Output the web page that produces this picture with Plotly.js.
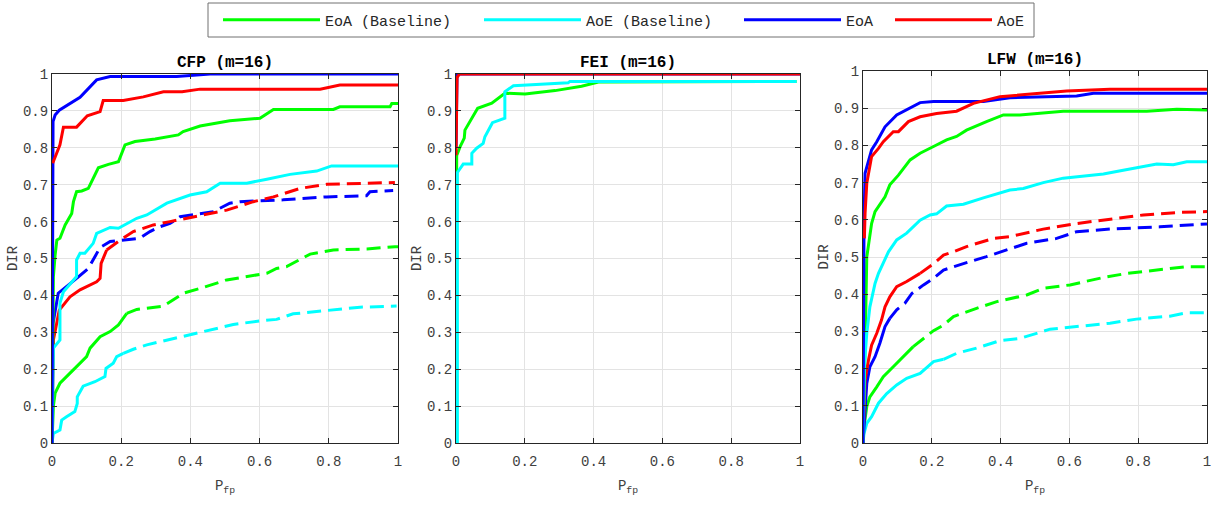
<!DOCTYPE html>
<html>
<head>
<meta charset="utf-8">
<script src="https://cdn.plot.ly/plotly-3.0.1.min.js"></script>
<style>html,body{margin:0;padding:0;background:#fff;} #chart{width:1225px;height:507px;}</style>
</head>
<body>
<div id="chart"></div>
<script>
// ---------- data ----------
const seriesNames = ['EoA (Baseline)', 'AoE (Baseline)', 'EoA', 'AoE'];
const panelTitles = ['CFP (m=16)', 'FEI (m=16)', 'LFW (m=16)'];
const xTitle = 'P<sub>fp</sub>';
const yTitle = 'DIR';
const xTickVals = [0, 0.2, 0.4, 0.6, 0.8, 1];
const xTickText = ['0', '0.2', '0.4', '0.6', '0.8', '1'];
const yTickVals = [0, 0.1, 0.2, 0.3, 0.4, 0.5, 0.6, 0.7, 0.8, 0.9, 1];
const yTickText = ['0', '0.1', '0.2', '0.3', '0.4', '0.5', '0.6', '0.7', '0.8', '0.9', '1'];

// CFP solid
const cfp_eoaBase_x = [0, 0.004, 0.009, 0.014, 0.023, 0.038, 0.057, 0.062, 0.071, 0.086, 0.105, 0.124, 0.134, 0.163, 0.192, 0.211, 0.24, 0.298, 0.365, 0.379, 0.428, 0.514, 0.601, 0.64, 0.813, 0.832, 0.977, 0.982, 1];
const cfp_eoaBase_y = [0, 0.45, 0.509, 0.55, 0.555, 0.591, 0.622, 0.654, 0.681, 0.683, 0.69, 0.726, 0.746, 0.755, 0.762, 0.808, 0.817, 0.824, 0.835, 0.844, 0.859, 0.873, 0.88, 0.904, 0.904, 0.911, 0.911, 0.92, 0.92];
const cfp_aoeBase_x = [0, 0.004, 0.023, 0.023, 0.033, 0.071, 0.071, 0.081, 0.095, 0.119, 0.129, 0.168, 0.192, 0.245, 0.274, 0.332, 0.399, 0.447, 0.486, 0.563, 0.621, 0.688, 0.765, 0.808, 1];
const cfp_aoeBase_y = [0, 0.257, 0.279, 0.379, 0.41, 0.451, 0.496, 0.514, 0.514, 0.541, 0.568, 0.584, 0.582, 0.609, 0.618, 0.65, 0.672, 0.681, 0.704, 0.704, 0.715, 0.728, 0.737, 0.751, 0.751];
const cfp_eoa_x = [0, 0.003, 0.009, 0.021, 0.081, 0.129, 0.168, 0.36, 0.457, 1];
const cfp_eoa_y = [0, 0.871, 0.889, 0.902, 0.937, 0.984, 0.993, 0.993, 1, 1];
const cfp_aoe_x = [0.002, 0.023, 0.033, 0.071, 0.102, 0.139, 0.148, 0.206, 0.264, 0.322, 0.376, 0.428, 0.775, 0.832, 1];
const cfp_aoe_y = [0.758, 0.808, 0.856, 0.856, 0.887, 0.898, 0.928, 0.928, 0.938, 0.952, 0.952, 0.959, 0.959, 0.97, 0.97];
// CFP dashed
const cfp_eoaBaseD_x = [0, 0.004, 0.009, 0.023, 0.071, 0.1, 0.11, 0.139, 0.168, 0.192, 0.216, 0.245, 0.322, 0.38, 0.428, 0.505, 0.621, 0.649, 0.678, 0.746, 0.813, 0.91, 0.991, 1];
const cfp_eoaBaseD_y = [0, 0.1, 0.135, 0.162, 0.207, 0.234, 0.257, 0.288, 0.302, 0.32, 0.351, 0.362, 0.371, 0.406, 0.419, 0.442, 0.46, 0.473, 0.478, 0.512, 0.523, 0.526, 0.532, 0.532];
const cfp_aoeBaseD_x = [0, 0.004, 0.023, 0.028, 0.042, 0.066, 0.073, 0.073, 0.09, 0.124, 0.153, 0.156, 0.177, 0.187, 0.206, 0.235, 0.274, 0.332, 0.399, 0.457, 0.524, 0.601, 0.649, 0.697, 0.803, 0.89, 0.996];
const cfp_aoeBaseD_y = [0, 0.026, 0.035, 0.062, 0.071, 0.085, 0.107, 0.125, 0.154, 0.166, 0.18, 0.202, 0.216, 0.234, 0.243, 0.254, 0.266, 0.279, 0.293, 0.308, 0.321, 0.331, 0.335, 0.35, 0.36, 0.368, 0.371];
const cfp_eoaD_x = [0, 0.003, 0.018, 0.071, 0.105, 0.124, 0.139, 0.168, 0.254, 0.283, 0.312, 0.341, 0.37, 0.466, 0.514, 0.543, 0.668, 0.794, 0.909, 0.919, 0.986];
const cfp_eoaD_y = [0, 0.324, 0.406, 0.446, 0.473, 0.505, 0.53, 0.546, 0.555, 0.573, 0.586, 0.595, 0.613, 0.627, 0.65, 0.654, 0.659, 0.667, 0.67, 0.681, 0.684];
const cfp_aoeD_x = [0, 0.004, 0.021, 0.052, 0.081, 0.129, 0.139, 0.142, 0.158, 0.197, 0.235, 0.293, 0.341, 0.389, 0.437, 0.505, 0.582, 0.64, 0.717, 0.794, 0.909, 0.991];
const cfp_aoeD_y = [0, 0.279, 0.36, 0.396, 0.415, 0.437, 0.446, 0.487, 0.523, 0.55, 0.573, 0.591, 0.6, 0.609, 0.618, 0.631, 0.654, 0.667, 0.69, 0.701, 0.704, 0.706];

// FEI solid
const fei_eoaBase_x = [0, 0.002, 0.012, 0.024, 0.026, 0.041, 0.046, 0.063, 0.104, 0.142, 0.201, 0.288, 0.365, 0.414, 0.99];
const fei_eoaBase_y = [0, 0.779, 0.803, 0.826, 0.848, 0.871, 0.88, 0.907, 0.921, 0.948, 0.946, 0.955, 0.967, 0.978, 0.98];
const fei_aoeBase_x = [0.004, 0.004, 0.021, 0.046, 0.046, 0.06, 0.079, 0.084, 0.106, 0.142, 0.142, 0.167, 0.326, 0.331, 0.99];
const fei_aoeBase_y = [0, 0.733, 0.756, 0.756, 0.785, 0.799, 0.812, 0.83, 0.868, 0.88, 0.952, 0.968, 0.976, 0.98, 0.98];
const fei_eoa_x = [0, 0.003, 1];
const fei_eoa_y = [0.8, 1, 1];
const fei_aoe_x = [0, 0.003, 0.01, 1];
const fei_aoe_y = [0.78, 0.99, 1, 1];

// LFW solid
const lfw_eoaBase_x = [0, 0.004, 0.008, 0.011, 0.025, 0.035, 0.049, 0.064, 0.078, 0.103, 0.137, 0.166, 0.205, 0.243, 0.272, 0.301, 0.359, 0.408, 0.456, 0.582, 0.825, 0.912, 1];
const lfw_eoaBase_y = [0, 0.15, 0.35, 0.5, 0.59, 0.622, 0.64, 0.662, 0.694, 0.72, 0.761, 0.779, 0.797, 0.815, 0.824, 0.841, 0.864, 0.882, 0.882, 0.892, 0.892, 0.897, 0.895];
const lfw_aoeBase_x = [0, 0.004, 0.011, 0.02, 0.035, 0.045, 0.074, 0.098, 0.127, 0.166, 0.195, 0.214, 0.243, 0.292, 0.35, 0.389, 0.427, 0.466, 0.524, 0.582, 0.641, 0.699, 0.737, 0.795, 0.854, 0.902, 0.941, 1];
const lfw_aoeBase_y = [0, 0.205, 0.295, 0.366, 0.429, 0.456, 0.514, 0.546, 0.564, 0.599, 0.613, 0.616, 0.637, 0.642, 0.659, 0.669, 0.68, 0.684, 0.7, 0.712, 0.718, 0.723, 0.73, 0.739, 0.75, 0.748, 0.756, 0.756];
const lfw_eoa_x = [0, 0.003, 0.006, 0.025, 0.04, 0.064, 0.098, 0.127, 0.166, 0.205, 0.35, 0.427, 0.621, 0.67, 1];
const lfw_eoa_y = [0, 0.6, 0.725, 0.788, 0.81, 0.85, 0.882, 0.897, 0.915, 0.918, 0.918, 0.928, 0.933, 0.94, 0.94];
const lfw_aoe_x = [0.004, 0.006, 0.011, 0.025, 0.045, 0.059, 0.088, 0.103, 0.132, 0.166, 0.214, 0.272, 0.321, 0.398, 0.592, 0.718, 1];
const lfw_aoe_y = [0.55, 0.617, 0.698, 0.77, 0.792, 0.81, 0.837, 0.837, 0.864, 0.877, 0.886, 0.892, 0.913, 0.931, 0.946, 0.951, 0.951];
// LFW dashed
const lfw_eoaBaseD_x = [0, 0.003, 0.011, 0.02, 0.04, 0.059, 0.088, 0.117, 0.146, 0.176, 0.205, 0.234, 0.263, 0.33, 0.389, 0.476, 0.524, 0.602, 0.699, 0.767, 0.854, 0.941, 1];
const lfw_eoaBaseD_y = [0, 0.044, 0.098, 0.124, 0.151, 0.178, 0.205, 0.232, 0.259, 0.281, 0.302, 0.317, 0.34, 0.362, 0.38, 0.398, 0.416, 0.425, 0.445, 0.456, 0.465, 0.474, 0.474];
const lfw_aoeBaseD_x = [0, 0.003, 0.011, 0.025, 0.045, 0.069, 0.098, 0.127, 0.166, 0.205, 0.234, 0.272, 0.33, 0.398, 0.456, 0.544, 0.621, 0.718, 0.795, 0.892, 0.941, 1];
const lfw_aoeBaseD_y = [0, 0.026, 0.053, 0.071, 0.107, 0.133, 0.156, 0.174, 0.187, 0.219, 0.225, 0.241, 0.255, 0.275, 0.281, 0.306, 0.313, 0.322, 0.333, 0.341, 0.35, 0.35];
const lfw_eoaD_x = [0, 0.006, 0.011, 0.02, 0.035, 0.049, 0.064, 0.078, 0.098, 0.122, 0.142, 0.176, 0.205, 0.234, 0.263, 0.301, 0.359, 0.427, 0.476, 0.563, 0.621, 0.718, 0.863, 1];
const lfw_eoaD_y = [0, 0.089, 0.16, 0.205, 0.232, 0.268, 0.313, 0.335, 0.358, 0.376, 0.402, 0.425, 0.443, 0.465, 0.474, 0.485, 0.501, 0.523, 0.537, 0.55, 0.568, 0.575, 0.581, 0.589];
const lfw_aoeD_x = [0, 0.003, 0.006, 0.016, 0.025, 0.04, 0.054, 0.064, 0.078, 0.098, 0.127, 0.166, 0.205, 0.234, 0.263, 0.301, 0.34, 0.379, 0.427, 0.524, 0.621, 0.699, 0.815, 0.922, 1];
const lfw_aoeD_y = [0, 0.071, 0.169, 0.223, 0.263, 0.295, 0.331, 0.366, 0.393, 0.42, 0.434, 0.456, 0.482, 0.505, 0.514, 0.528, 0.539, 0.55, 0.555, 0.575, 0.59, 0.599, 0.613, 0.62, 0.622];

// ---------- styling ----------
const colors = ['#00ff00', '#00ffff', '#0000ff', '#ff0000'];
const mono = 'Liberation Mono';
const LW = 3;
const dashPat = '14px,7px';
const legendIds = ['legend', 'legend2', 'legend3', 'legend4'];
const legendLineStart = [225, 486, 746, 897];

const traces = [];
function addDashed(xs, ys, ci, ax, splitX) {
  let k = xs.findIndex(v => v >= splitX);
  if (k < 0) k = xs.length - 1;
  const base = {type: 'scatter', mode: 'lines', xaxis: 'x' + ax, yaxis: 'y' + ax, showlegend: false, hoverinfo: 'skip', name: seriesNames[ci]};
  traces.push(Object.assign({}, base, {x: xs.slice(0, k + 1), y: ys.slice(0, k + 1), line: {color: colors[ci], width: LW}}));
  traces.push(Object.assign({}, base, {x: xs.slice(k), y: ys.slice(k), line: {color: colors[ci], width: LW, dash: dashPat}}));
}
function addSolid(xs, ys, ci, ax, legend) {
  traces.push({type: 'scatter', mode: 'lines', x: xs, y: ys, xaxis: 'x' + ax, yaxis: 'y' + ax,
    name: seriesNames[ci], showlegend: legend, legend: legendIds[ci], hoverinfo: 'skip',
    line: {color: colors[ci], width: LW}});
}
// dashed first (drawn below)
addDashed(cfp_eoaBaseD_x, cfp_eoaBaseD_y, 0, '', 0.2);
addDashed(cfp_aoeBaseD_x, cfp_aoeBaseD_y, 1, '', 0.2);
addDashed(cfp_eoaD_x, cfp_eoaD_y, 2, '', 0.06);
addDashed(cfp_aoeD_x, cfp_aoeD_y, 3, '', 0.15);
addDashed(lfw_eoaBaseD_x, lfw_eoaBaseD_y, 0, '3', 0.12);
addDashed(lfw_aoeBaseD_x, lfw_aoeBaseD_y, 1, '3', 0.22);
addDashed(lfw_eoaD_x, lfw_eoaD_y, 2, '3', 0.07);
addDashed(lfw_aoeD_x, lfw_aoeD_y, 3, '3', 0.13);
// solid
addSolid(cfp_eoaBase_x, cfp_eoaBase_y, 0, '', true);
addSolid(cfp_aoeBase_x, cfp_aoeBase_y, 1, '', true);
addSolid(cfp_eoa_x, cfp_eoa_y, 2, '', true);
addSolid(cfp_aoe_x, cfp_aoe_y, 3, '', true);
addSolid(fei_eoaBase_x, fei_eoaBase_y, 0, '2', false);
addSolid(fei_aoeBase_x, fei_aoeBase_y, 1, '2', false);
addSolid(fei_eoa_x, fei_eoa_y, 2, '2', false);
addSolid(fei_aoe_x, fei_aoe_y, 3, '2', false);
addSolid(lfw_eoaBase_x, lfw_eoaBase_y, 0, '3', false);
addSolid(lfw_aoeBase_x, lfw_aoeBase_y, 1, '3', false);
addSolid(lfw_eoa_x, lfw_eoa_y, 2, '3', false);
addSolid(lfw_aoe_x, lfw_aoe_y, 3, '3', false);

const W = 1225, H = 507;
const px = [[52, 398], [456, 800], [863, 1207]];
const py = [[74, 443], [74, 443], [71, 443]];
function xAxis(i) {
  return {domain: [px[i][0] / W, px[i][1] / W], range: [0, 1], anchor: i === 0 ? 'y' : 'y' + (i + 1),
    tickvals: xTickVals, ticktext: xTickText, ticks: 'inside', ticklen: 5, tickcolor: '#262626',
    showline: true, linecolor: '#262626', linewidth: 1, mirror: 'ticks', zeroline: false,
    showgrid: true, gridcolor: '#e3e3e3', gridwidth: 1, ticklabelstandoff: 5,
    tickfont: {family: mono, size: 14, color: '#404040'}, fixedrange: true,
    title: {text: xTitle, standoff: 11, font: {family: mono, size: 14, color: '#404040'}}};
}
function yAxis(i) {
  return {domain: [1 - py[i][1] / H, 1 - py[i][0] / H], range: [0, 1], anchor: i === 0 ? 'x' : 'x' + (i + 1),
    tickvals: yTickVals, ticktext: yTickText, ticks: 'inside', ticklen: 5, tickcolor: '#262626',
    showline: true, linecolor: '#262626', linewidth: 1, mirror: 'ticks', zeroline: false,
    showgrid: true, gridcolor: '#e3e3e3', gridwidth: 1,
    tickfont: {family: mono, size: 14, color: '#404040'}, fixedrange: true,
    title: {text: yTitle, standoff: 2, font: {family: mono, size: 14, color: '#404040'}}};
}
const annotations = [];
for (let i = 0; i < 3; i++) {
  const cx = (px[i][0] + px[i][1]) / 2 / W;
  annotations.push({xref: 'paper', yref: 'paper', x: cx, y: 1 - (py[i][0] - 11) / H, xanchor: 'center', yanchor: 'middle',
    text: '<b>' + panelTitles[i] + '</b>', showarrow: false, font: {family: mono, size: 16, color: '#000'}});
}

const layout = {
  width: W, height: H, margin: {l: 0, r: 0, t: 0, b: 0},
  paper_bgcolor: '#fff', plot_bgcolor: '#fff',
  xaxis: xAxis(0), yaxis: yAxis(0), xaxis2: xAxis(1), yaxis2: yAxis(1), xaxis3: xAxis(2), yaxis3: yAxis(2),
  showlegend: true,
  shapes: [{type: 'rect', xref: 'paper', yref: 'paper', x0: 208 / W, x1: 1034 / W, y0: 1 - 37 / H, y1: 1 - 3 / H,
    line: {color: '#707070', width: 1}, fillcolor: '#fff', layer: 'above'}],
  annotations: annotations
};
legendIds.forEach((id, i) => {
  layout[id] = {orientation: 'h', x: (legendLineStart[i] - 7) / W, y: 1 - 20 / H, xanchor: 'left', yanchor: 'middle',
    bgcolor: 'rgba(0,0,0,0)', borderwidth: 0, itemwidth: 97,
    font: {family: mono, size: 15, color: '#262626'}};
});
Plotly.newPlot('chart', traces, layout, {displayModeBar: false, staticPlot: true});
</script>
</body>
</html>
